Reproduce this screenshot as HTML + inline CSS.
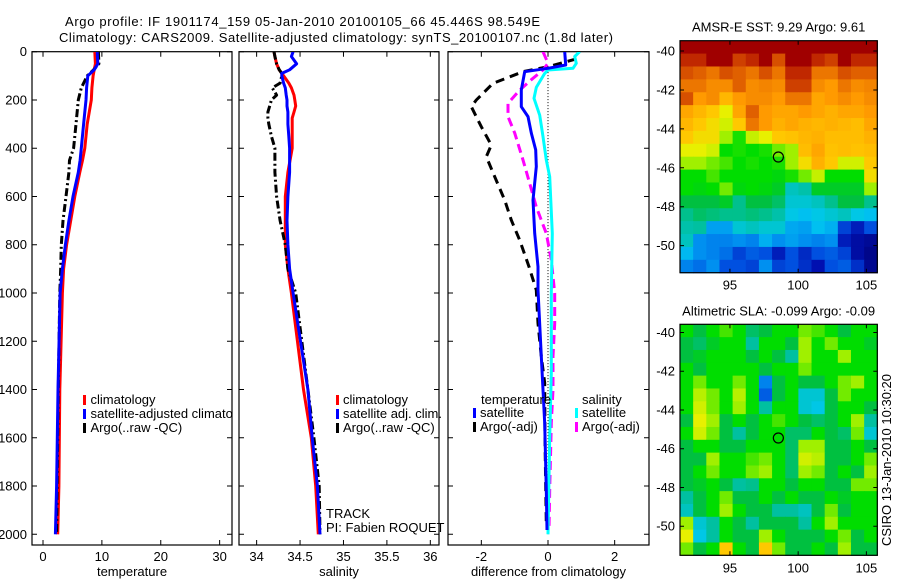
<!DOCTYPE html>
<html><head><meta charset="utf-8">
<style>
html,body{margin:0;padding:0;background:#fff;}
svg{display:block;font-family:"Liberation Sans",sans-serif;}
text{font-size:13px;fill:#000;}
</style></head>
<body>
<svg id="fig" width="900" height="580" viewBox="0 0 900 580">
<defs>
<clipPath id="c1"><rect x="32" y="52" width="200" height="493"/></clipPath>
<clipPath id="c2"><rect x="239" y="52" width="200" height="493"/></clipPath>
<clipPath id="c3"><rect x="448" y="52" width="201" height="493"/></clipPath>
</defs>
<text x="65" y="26" textLength="475">Argo profile: IF 1901174_159 05-Jan-2010 20100105_66 45.446S 98.549E</text>
<text x="59" y="42" textLength="554">Climatology: CARS2009. Satellite-adjusted climatology: synTS_20100107.nc (1.8d later)</text>
<g id="g"></g>
</svg>
<script>
// depth levels
const depthT = [0,50,75,100,150,200,300,400,450,500,600,700,800,900,1000,1400,1800,2000];
const tempClim = [8.8,8.9,8.7,8.5,8.3,8.2,7.5,7.1,6.7,6.25,5.4,4.7,4.0,3.5,3.3,2.85,2.7,2.5];
const tempSat  = [9.2,9.3,8.7,7.6,7.4,7.3,6.9,6.5,6.3,6.0,5.1,4.4,3.8,3.3,2.9,2.55,2.3,2.1];
const tempArgo = [9.4,9.5,8.6,7.5,6.5,6.0,5.6,5.2,4.5,4.4,3.9,3.4,3.1,3.0,2.85,2.6,2.4,2.3];
const depthS = [0,20,50,75,90,100,130,150,180,200,225,250,275,300,350,400,500,600,700,800,900,1000,1400,1600,1800,2000];
const salClim = [34.2,34.21,34.23,34.26,34.29,34.31,34.37,34.4,34.43,34.44,34.45,34.43,34.41,34.41,34.41,34.41,34.36,34.33,34.33,34.33,34.36,34.4,34.54,34.63,34.68,34.71];
const salSat  = [34.42,34.4,34.46,34.38,34.29,34.29,34.31,34.33,34.34,34.35,34.35,34.36,34.36,34.36,34.37,34.38,34.38,34.36,34.35,34.36,34.38,34.42,34.59,34.64,34.7,34.73];
const salArgo = [34.2,34.21,34.23,34.26,34.29,34.29,34.27,34.18,34.23,34.17,34.15,34.13,34.13,34.14,34.17,34.21,34.21,34.23,34.27,34.33,34.36,34.45,34.59,34.66,34.72,34.73];
const depthDT = [0,55,69,83,159,228,269,337,407,476,615,753,891,988,1263,1539,1817,1982];
const diffTSat = [0.5,0.53,0.0,-0.7,-0.8,-0.8,-0.6,-0.5,-0.37,-0.35,-0.45,-0.4,-0.3,-0.3,-0.2,-0.1,-0.05,-0.03];
const depthDTA = [30,62,83,131,200,228,311,387,435,518,615,698,781,891,988,1126,1263,1373,1608,1953];
const diffTArgo = [0.85,0.0,-0.75,-1.65,-2.15,-2.3,-2.0,-1.7,-1.85,-1.6,-1.3,-1.1,-0.85,-0.57,-0.35,-0.3,-0.2,-0.1,-0.09,-0.05];
const depthDS = [0,20,48,69,76,90,148,193,263,352,449,518,753,1000,1332,1600,2000];
const diffSSat = [0.95,0.8,0.85,0.75,0.0,-0.1,-0.35,-0.42,-0.25,-0.15,-0.05,0.05,0.13,0.1,0.1,0.05,0.0];
const depthDSA = [0,48,76,116,159,214,269,337,449,546,643,753,863,1001,1126,1263,1401,1539,1817,1982];
const diffSArgo = [-0.15,0.0,-0.15,-0.5,-0.85,-1.2,-1.2,-1.0,-0.75,-0.55,-0.35,-0.05,0.1,0.2,0.2,0.15,0.15,0.1,0.05,0.03];
const depthTicks = [0,200,400,600,800,1000,1200,1400,1600,1800,2000];
const tempTicks = [0,10,20,30];
const salTicks = [34,34.5,35,35.5,36];
const salTickLabels = ["34","34.5","35","35.5","36"];
const diffTicks = [-2,0,2];
const latTicks = [-40,-42,-44,-46,-48,-50];
const lonTicks = [95,100,105];
const sstGrid = [
[1,1,1,1,1,1,1,1,1,1,1,1,1,1,1],
[0.95,0.95,1,1,0.92,0.95,1,0.9,1,1,0.95,0.92,1,0.95,0.95],
[0.9,0.88,0.85,0.9,0.88,0.85,0.9,0.85,0.95,0.95,0.85,0.85,0.9,0.88,0.88],
[0.85,0.85,0.82,0.82,0.88,0.82,0.83,0.82,0.92,0.92,0.82,0.8,0.85,0.82,0.83],
[0.9,0.8,0.82,0.75,0.8,0.82,0.82,0.8,0.85,0.85,0.78,0.8,0.82,0.8,0.82],
[0.78,0.75,0.72,0.68,0.78,0.88,0.8,0.78,0.78,0.8,0.78,0.76,0.78,0.78,0.8],
[0.75,0.72,0.7,0.66,0.72,0.85,0.8,0.76,0.78,0.76,0.75,0.76,0.75,0.74,0.78],
[0.72,0.7,0.7,0.62,0.56,0.65,0.68,0.72,0.73,0.75,0.76,0.74,0.74,0.74,0.76],
[0.68,0.68,0.66,0.55,0.56,0.55,0.56,0.6,0.62,0.74,0.78,0.73,0.74,0.73,0.74],
[0.62,0.62,0.6,0.58,0.55,0.56,0.55,0.56,0.62,0.7,0.76,0.72,0.66,0.66,0.72],
[0.55,0.55,0.58,0.55,0.55,0.55,0.55,0.54,0.56,0.6,0.65,0.55,0.55,0.55,0.7],
[0.55,0.54,0.55,0.6,0.54,0.55,0.54,0.52,0.42,0.44,0.52,0.52,0.52,0.52,0.62],
[0.5,0.5,0.5,0.52,0.46,0.5,0.5,0.48,0.4,0.4,0.42,0.46,0.5,0.5,0.46],
[0.46,0.48,0.47,0.46,0.46,0.47,0.46,0.44,0.38,0.36,0.38,0.4,0.42,0.38,0.36],
[0.44,0.45,0.32,0.32,0.4,0.42,0.4,0.4,0.33,0.32,0.36,0.34,0.18,0.12,0.2],
[0.42,0.3,0.28,0.28,0.3,0.28,0.34,0.3,0.32,0.3,0.28,0.3,0.12,0.08,0.06],
[0.35,0.3,0.28,0.25,0.18,0.22,0.2,0.12,0.2,0.14,0.2,0.22,0.18,0.08,0.04],
[0.28,0.25,0.3,0.2,0.2,0.18,0.3,0.18,0.2,0.15,0.1,0.2,0.22,0.15,0.05]];
const slaGrid = [
[0.55,0.5,0.55,0.58,0.55,0.48,0.5,0.55,0.55,0.6,0.58,0.55,0.5,0.55,0.55],
[0.5,0.48,0.52,0.55,0.55,0.45,0.55,0.55,0.5,0.62,0.55,0.6,0.55,0.55,0.52],
[0.5,0.52,0.55,0.55,0.55,0.5,0.55,0.5,0.45,0.62,0.55,0.55,0.62,0.55,0.55],
[0.55,0.5,0.55,0.55,0.55,0.55,0.5,0.55,0.55,0.6,0.55,0.55,0.55,0.55,0.55],
[0.55,0.6,0.55,0.55,0.6,0.55,0.28,0.5,0.55,0.5,0.5,0.55,0.6,0.62,0.55],
[0.55,0.64,0.6,0.55,0.64,0.55,0.22,0.5,0.55,0.4,0.4,0.5,0.6,0.55,0.55],
[0.55,0.66,0.6,0.55,0.62,0.55,0.45,0.55,0.55,0.4,0.38,0.5,0.55,0.55,0.5],
[0.5,0.68,0.62,0.5,0.55,0.5,0.55,0.58,0.55,0.5,0.48,0.5,0.55,0.62,0.45],
[0.55,0.66,0.6,0.5,0.45,0.5,0.55,0.55,0.48,0.48,0.55,0.5,0.48,0.6,0.4],
[0.5,0.55,0.55,0.5,0.5,0.55,0.55,0.55,0.48,0.62,0.62,0.5,0.5,0.55,0.5],
[0.5,0.5,0.62,0.55,0.55,0.58,0.6,0.55,0.48,0.66,0.64,0.5,0.5,0.55,0.6],
[0.5,0.55,0.6,0.55,0.55,0.6,0.62,0.55,0.48,0.62,0.6,0.5,0.55,0.5,0.62],
[0.5,0.52,0.55,0.5,0.45,0.46,0.55,0.55,0.5,0.55,0.55,0.5,0.5,0.6,0.6],
[0.45,0.5,0.55,0.6,0.5,0.5,0.55,0.5,0.55,0.5,0.5,0.55,0.52,0.55,0.55],
[0.42,0.5,0.55,0.62,0.55,0.5,0.5,0.45,0.45,0.42,0.5,0.6,0.5,0.55,0.55],
[0.62,0.4,0.45,0.55,0.5,0.45,0.5,0.5,0.5,0.45,0.55,0.62,0.55,0.55,0.55],
[0.68,0.38,0.45,0.55,0.5,0.5,0.62,0.55,0.5,0.5,0.5,0.55,0.6,0.5,0.55],
[0.6,0.5,0.55,0.72,0.55,0.5,0.72,0.6,0.5,0.5,0.55,0.5,0.62,0.5,0.5]];
const argoLon = [98.549];
const argoLat = [-45.446];

const NS='http://www.w3.org/2000/svg';
const G=document.getElementById('g');
function mk(tag,attrs,parent){const e=document.createElementNS(NS,tag);for(const k in attrs)e.setAttribute(k,attrs[k]);(parent||G).appendChild(e);return e;}
function lin(d0,d1,r0,r1){return v=>r0+(v-d0)*(r1-r0)/(d1-d0);}
const yD = lin(0,2000,51.7,534.3);

const panels=[
 {x0:32,x1:232,dom:[-1.87,32.1],ticks:tempTicks,labels:tempTicks.map(String),label:'temperature',ylab:true,clip:'c1',name:'temperature'},
 {x0:239,x1:439,dom:[33.797,36.1],ticks:salTicks,labels:salTickLabels,label:'salinity',ylab:false,clip:'c2',name:'salinity'},
 {x0:448,x1:649,dom:[-3.0,3.03],ticks:diffTicks,labels:diffTicks.map(String),label:'difference from climatology',ylab:false,clip:'c3',name:'difference'}
];
const yTop=51.7,yBot=545;
panels.forEach(p=>{
  p.sx=lin(p.dom[0],p.dom[1],p.x0,p.x1);
  const r=mk('rect',{x:p.x0,y:yTop,width:p.x1-p.x0,height:yBot-yTop,fill:'none',stroke:'#000','stroke-width':1.2});
  
  
  depthTicks.forEach(d=>{
    const y=yD(d);
    const t=mk('path',{d:`M${p.x0} ${y}h5M${p.x1} ${y}h-5`,stroke:'#000','stroke-width':1});
    
    
    if(p.ylab){const tx=mk('text',{x:p.x0-5,y:y+4.5,'text-anchor':'end'});tx.textContent=d;
      
      }
  });
  p.ticks.forEach((v,i)=>{
    const x=p.sx(v);
    const t=mk('path',{d:`M${x} ${yBot}v-5M${x} ${yTop}v5`,stroke:'#000','stroke-width':1});
    
    
    const tx=mk('text',{x:x,y:561,'text-anchor':'middle'});tx.textContent=p.labels[i];
    
    
  });
  const xl=mk('text',{x:(p.x0+p.x1)/2,y:576,'text-anchor':'middle'});xl.textContent=p.label;
  
  
});
function line(p,xs,ds,color,dash,name,w){
  const pts=xs.map((v,i)=>p.sx(v).toFixed(1)+','+yD(ds[i]).toFixed(1)).join(' ');
  const a={points:pts,fill:'none',stroke:color,'stroke-width':w||3,'clip-path':'url(#'+p.clip+')','stroke-linejoin':'round'};
  if(dash)a['stroke-dasharray']=dash;
  const e=mk('polyline',a);
  
  
}
const P1=panels[0],P2=panels[1],P3=panels[2];
line(P1,tempClim,depthT,'#ff0000',null,'temp-climatology-line');
line(P1,tempArgo,depthT,'#000','8,3,2,3','temp-argo-line');
line(P1,tempSat,depthT,'#0000ff',null,'temp-satellite-line');
line(P2,salClim,depthS,'#ff0000',null,'sal-climatology-line');
line(P2,salArgo,depthS,'#000','8,3,2,3','sal-argo-line');
line(P2,salSat,depthS,'#0000ff',null,'sal-satellite-line');
const z=mk('line',{x1:P3.sx(0),x2:P3.sx(0),y1:yD(60),y2:yD(2000),stroke:'#000','stroke-width':1,'stroke-dasharray':'1,2'});


line(P3,diffTArgo,depthDTA,'#000','9,6','diff-temp-argo-line');
line(P3,diffSArgo,depthDSA,'#ff00ff','9,5','diff-sal-argo-line');
line(P3,diffSSat,depthDS,'#00ffff',null,'diff-sal-satellite-line');
line(P3,diffTSat,depthDT,'#0000ff',null,'diff-temp-satellite-line');

function legend(x,y,color,label,name){
  const m=mk('rect',{x:x,y:y-9,width:3,height:10,fill:color});
  
  
  const t=mk('text',{x:x+7,y:y});t.textContent=label;
  
  
}
const lg1=mk('g',{'clip-path':'url(#c1)'});
[['#f00','climatology'],['#00f','satellite-adjusted climatology'],['#000','Argo(..raw -QC)']].forEach((a,i)=>{
  const m=mk('rect',{x:83,y:395+i*14,width:3,height:10,fill:a[0]},lg1);
  
  
  const t=mk('text',{x:90.5,y:404+i*14},lg1);t.textContent=a[1];
  
  
});
[['#f00','climatology'],['#00f','satellite adj. clim.'],['#000','Argo(..raw -QC)']].forEach((a,i)=>legend(336,404+i*14,a[0],a[1],'legend-entry'));
const tr=mk('text',{x:326,y:518});tr.textContent='TRACK';


const pi=mk('text',{x:326,y:532});pi.textContent='PI: Fabien ROQUET';


const lt=mk('text',{x:481,y:404});lt.textContent='temperature';


const ls=mk('text',{x:582,y:404});ls.textContent='salinity';


legend(473,417,'#00f','satellite','legend-entry');
legend(473,431,'#000','Argo(-adj)','legend-entry');
legend(575,417,'#0ff','satellite','legend-entry');
legend(575,431,'#f0f','Argo(-adj)','legend-entry');

// colormap
const cstops=[[0,[0,0,112]],[0.1,[0,16,176]],[0.2,[0,80,224]],[0.3,[0,144,240]],[0.37,[0,200,240]],[0.45,[0,192,160]],[0.5,[0,192,64]],[0.55,[0,221,0]],[0.62,[160,240,0]],[0.68,[232,240,0]],[0.72,[255,200,0]],[0.8,[255,154,0]],[0.88,[224,96,0]],[0.95,[192,40,0]],[1,[160,0,0]]];
function cmap(v){for(let i=1;i<cstops.length;i++){if(v<=cstops[i][0]){const a=cstops[i-1],b=cstops[i];const t=(v-a[0])/(b[0]-a[0]);return 'rgb('+a[1].map((c,k)=>Math.round(c+(b[1][k]-c)*t)).join(',')+')';}}return 'rgb(160,0,0)';}

function map(grid,x0,x1,y0,y1,lat0,lat1,title,name){
  const lon=lin(91.34,105.8,x0,x1), lat=lin(lat0,lat1,y0,y1);
  const rows=grid.length, cols=grid[0].length, cw=(x1-x0)/cols, ch=(y1-y0)/rows;
  grid.forEach((row,r)=>row.forEach((v,c)=>{
    const e=mk('rect',{x:(x0+c*cw).toFixed(2),y:(y0+r*ch).toFixed(2),width:(cw+0.6).toFixed(2),height:(ch+0.6).toFixed(2),fill:cmap(v)});
    
    
  }));
  const f=mk('rect',{x:x0,y:y0,width:x1-x0,height:y1-y0,fill:'none',stroke:'#000','stroke-width':1.2});
  
  
  latTicks.forEach(v=>{const y=lat(v);
    const t=mk('path',{d:`M${x0} ${y}h4M${x1} ${y}h-4`,stroke:'#000'});
    
    
    const tx=mk('text',{x:x0-5,y:y+4.5,'text-anchor':'end'});tx.textContent=v;
    
    });
  lonTicks.forEach(v=>{const x=lon(v);
    const t=mk('path',{d:`M${x} ${y1}v-4M${x} ${y0}v4`,stroke:'#000'});
    
    
    const tx=mk('text',{x:x,y:y1+17,'text-anchor':'middle'});tx.textContent=v;
    
    });
  const c=mk('circle',{cx:lon(argoLon[0]),cy:lat(argoLat[0]),r:5,fill:'none',stroke:'#000','stroke-width':1.2});
  
  
  const tt=mk('text',{x:(x0+x1)/2,y:y0-9,'text-anchor':'middle'});tt.textContent=title;
  
  
}
map(sstGrid,680,877.3,40.7,272.7,-39.47,-51.39,'AMSR-E SST: 9.29 Argo: 9.61','sst-map');
map(slaGrid,680,877.3,324.3,555.3,-39.58,-51.5,'Altimetric SLA: -0.099 Argo: -0.09','sla-map');
const cs=mk('text',{x:0,y:0,transform:'translate(891,546) rotate(-90)'});cs.textContent='CSIRO 13-Jan-2010 10:30:20';


</script>
</body></html>
